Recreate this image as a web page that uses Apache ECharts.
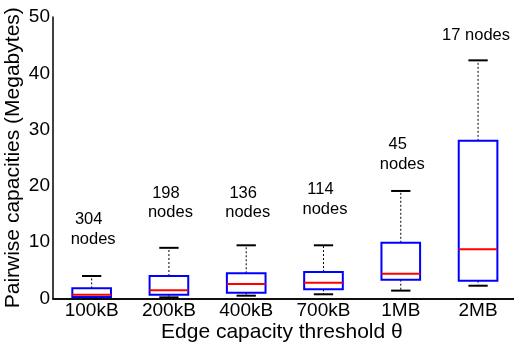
<!DOCTYPE html>
<html>
<head>
<meta charset="utf-8">
<script src="https://cdn.jsdelivr.net/npm/echarts@6/dist/echarts.min.js"></script>
<style>
  html, body { margin: 0; padding: 0; background: #fff; }
  #chart { width: 514px; height: 344px; }
</style>
</head>
<body>
<div id="chart"></div>
<script>
// Edge capacity thresholds and the five-number summaries of pairwise capacities (MB)
const categories = ['100kB', '200kB', '400kB', '700kB', '1MB', '2MB'];
const lowerWhisker = [0.05, 0.2, 0.5, 0.75, 1.4, 2.27];
const q1 = [0.27, 0.68, 1.03, 1.63, 3.34, 3.16];
const median = [0.67, 1.46, 2.58, 2.8, 4.4, 8.74];
const q3 = [1.8, 4.0, 4.48, 4.7, 9.9, 28.0];
const upperWhisker = [4.0, 9.0, 9.45, 9.45, 19.1, 42.3];

// Node counts per threshold and the height (MB) where each note is written
const nodeCounts = [304, 198, 136, 114, 45, 17];
const noteY = [12.3, 17.0, 17.0, 17.6, 25.6, 46.8];

const yTicks = [0, 10, 20, 30, 40, 50];

const FONT = '"Liberation Sans", Arial, sans-serif';
const NOTE_SIZE = 16.5;
const NOTE_LINE = 19.5;
const chart = echarts.init(document.getElementById('chart'));

const boxData = categories.map((c, i) => [i, lowerWhisker[i], q1[i], median[i], q3[i], upperWhisker[i]]);
const lastIdx = categories.length - 1;

// Count line of each note (the widest threshold gets a single "N nodes" line)
const countNotes = categories.map((c, i) => ({
  value: [i, noteY[i]],
  label: i === lastIdx
    ? { formatter: nodeCounts[i] + ' nodes', offset: [-2, 0] }
    : { formatter: String(nodeCounts[i]), offset: [-3, -NOTE_LINE / 2] }
}));
// Second line ("nodes") of the two-line notes
const wordNotes = categories.slice(0, lastIdx).map((c, i) => ({
  value: [i, noteY[i]],
  label: { formatter: 'nodes', offset: [1.5, NOTE_LINE / 2] }
}));

function renderBox(params, api) {
  const i = api.value(0);
  const cx = api.coord([i, 0])[0];
  const band = api.size([1, 0])[0];
  const half = band * 0.25;
  const capHalf = band * 0.125;
  const y = k => api.coord([i, api.value(k)])[1];
  const yLo = y(1), yQ1 = y(2), yMed = y(3), yQ3 = y(4), yHi = y(5);
  const dashed = { stroke: '#000', lineWidth: 1, lineDash: [2, 2], fill: null };
  const cap = { stroke: '#000', lineWidth: 2 };
  return {
    type: 'group',
    children: [
      { type: 'line', shape: { x1: cx, y1: yQ3, x2: cx, y2: yHi }, style: dashed },
      { type: 'line', shape: { x1: cx, y1: yQ1, x2: cx, y2: yLo }, style: dashed },
      { type: 'line', shape: { x1: cx - capHalf, y1: yHi, x2: cx + capHalf, y2: yHi }, style: cap },
      { type: 'line', shape: { x1: cx - capHalf, y1: yLo, x2: cx + capHalf, y2: yLo }, style: cap },
      { type: 'rect', shape: { x: cx - half, y: yQ3, width: half * 2, height: yQ1 - yQ3 },
        style: { stroke: '#0000ff', lineWidth: 2, fill: null } },
      { type: 'line', shape: { x1: cx - half, y1: yMed, x2: cx + half, y2: yMed },
        style: { stroke: '#ff0000', lineWidth: 2 } }
    ]
  };
}

const tickStyle = { inside: true, length: 5, lineStyle: { color: '#000', width: 1 } };
const lineStyle = { show: true, lineStyle: { color: '#000', width: 1.5 } };
const noteLabel = {
  show: true,
  position: 'inside',
  color: '#000',
  opacity: 1,
  textBorderWidth: 0,
  fontFamily: FONT,
  fontSize: NOTE_SIZE,
  align: 'center',
  verticalAlign: 'middle'
};

chart.setOption({
  animation: false,
  backgroundColor: '#fff',
  grid: { left: 53, top: 17, width: 463.7, height: 281.5, containLabel: false, outerBoundsMode: 'none' },
  xAxis: [
    {
      type: 'category', data: categories, position: 'bottom',
      axisLine: lineStyle,
      axisTick: Object.assign({ alignWithLabel: true }, tickStyle),
      axisLabel: { color: '#000', fontFamily: FONT, fontSize: 19, margin: 3 },
      name: 'Edge capacity threshold θ', nameLocation: 'middle', nameGap: 23,
      nameMoveOverlap: false,
      nameTextStyle: { color: '#000', fontFamily: FONT, fontSize: 21, padding: [0, 6, 0, 0] },
      splitLine: { show: false }
    },
    {
      type: 'category', data: categories, position: 'top',
      axisLine: lineStyle,
      axisTick: Object.assign({ alignWithLabel: true }, tickStyle),
      axisLabel: { show: false },
      splitLine: { show: false }
    }
  ],
  yAxis: [
    {
      type: 'value', min: yTicks[0], max: yTicks[yTicks.length - 1], interval: 10,
      position: 'left',
      axisLine: lineStyle,
      axisTick: tickStyle,
      axisLabel: { color: '#000', fontFamily: FONT, fontSize: 19, margin: 3 },
      splitLine: { show: false },
      name: 'Pairwise capacities (Megabytes)', nameLocation: 'middle', nameGap: 29,
      nameMoveOverlap: false,
      nameTextStyle: { color: '#000', fontFamily: FONT, fontSize: 21 }
    },
    {
      type: 'value', min: yTicks[0], max: yTicks[yTicks.length - 1], interval: 10,
      position: 'right',
      axisLine: lineStyle,
      axisTick: tickStyle,
      axisLabel: { show: false },
      splitLine: { show: false }
    }
  ],
  series: [
    {
      type: 'custom',
      xAxisIndex: 0, yAxisIndex: 0,
      renderItem: renderBox,
      encode: { x: 0, y: [1, 2, 3, 4, 5] },
      data: boxData,
      clip: false,
      z: 3
    },
    {
      type: 'scatter', xAxisIndex: 0, yAxisIndex: 0,
      symbolSize: 0, silent: true,
      itemStyle: { opacity: 1 },
      data: countNotes,
      label: noteLabel
    },
    {
      type: 'scatter', xAxisIndex: 0, yAxisIndex: 0,
      symbolSize: 0, silent: true,
      itemStyle: { opacity: 1 },
      data: wordNotes,
      label: noteLabel
    }
  ]
});
</script>
</body>
</html>
